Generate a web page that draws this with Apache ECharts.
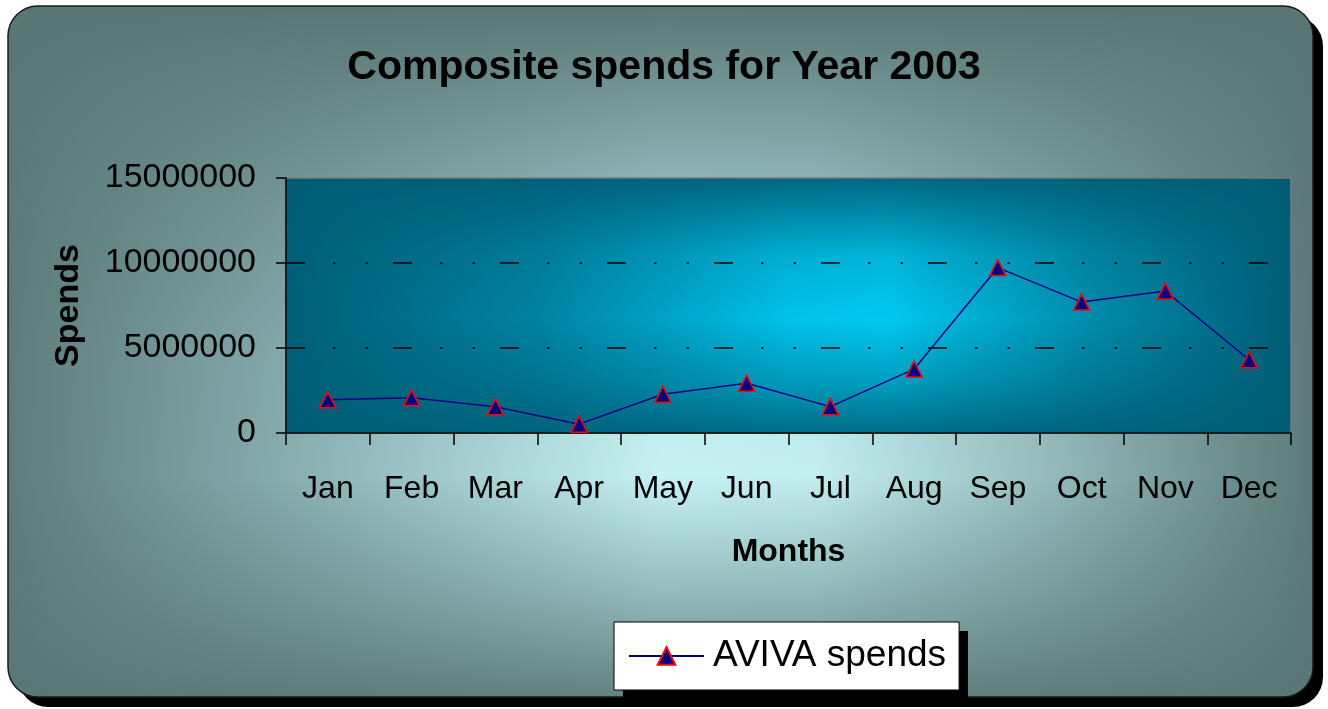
<!DOCTYPE html>
<html><head><meta charset="utf-8">
<script src="https://cdn.jsdelivr.net/npm/echarts@6/dist/echarts.min.js"></script>
<style>html,body{margin:0;padding:0;background:#fff}#c{width:1328px;height:709px}</style>
</head><body><div id="c"></div>
<script>
const months = ['Jan','Feb','Mar','Apr','May','Jun','Jul','Aug','Sep','Oct','Nov','Dec'];
const avivaSpends = [1950000, 2070000, 1550000, 520000, 2280000, 2930000, 1550000, 3760000, 9730000, 7700000, 8350000, 4310000];
const yMin = 0, yMax = 15000000, yInterval = 5000000;
const seriesName = 'AVIVA spends';
const titleText = 'Composite spends for Year 2003';
const xName = 'Months', yName = 'Spends';

const FONT = '"Liberation Sans", Arial, sans-serif';
const G = {left: 286, top: 178, right: 37, bottom: 276};
const LEG = {left: 614, top: 622, w: 345, h: 68, off: 9};

function lin(x2, y2, stops) {
  return {type: 'linear', x: 0, y: 0, x2: x2, y2: y2,
    colorStops: stops.map(s => ({offset: s[0], color: s[1]}))};
}

const chart = echarts.init(document.getElementById('c'), null, {renderer: 'canvas'});
chart.setOption({
  animation: false,
  backgroundColor: '#ffffff',
  graphic: [
    {type: 'rect', z: -30, shape: {x: 18, y: 16, width: 1305, height: 691, r: 30}, style: {fill: '#000'}},
    {type: 'rect', z: -29, shape: {x: 8, y: 6, width: 1305, height: 691, r: 30},
      style: {fill: lin(1, 0, [[0, '#5e7c7c'], [0.25, '#8fb6b8'], [0.5, '#c6f2f4'], [0.62, '#c2eef0'], [0.8, '#94babb'], [1, '#5c7a7a']])}},
    {type: 'rect', z: -28, shape: {x: 8, y: 6, width: 1305, height: 691, r: 30},
      style: {fill: lin(0, 1, [[0, 'rgba(88,118,118,1)'], [0.12, 'rgba(88,118,118,0.75)'], [0.3, 'rgba(88,118,118,0.4)'], [0.5, 'rgba(88,118,118,0.08)'], [0.68, 'rgba(88,118,118,0)'], [0.85, 'rgba(88,118,118,0.45)'], [1, 'rgba(88,118,118,0.9)']]),
        stroke: '#1a1a1a', lineWidth: 1.5}},
    {type: 'rect', z: -1, shape: {x: LEG.left + LEG.off, y: LEG.top + LEG.off, width: LEG.w, height: LEG.h}, style: {fill: '#000'}}
  ],
  title: {
    text: titleText, left: 'center', top: 42,
    textStyle: {fontFamily: FONT, fontSize: 41, fontWeight: 'bold', color: '#000'}
  },
  legend: {
    data: [seriesName], left: LEG.left, top: LEG.top, z: 5,
    backgroundColor: '#fff', borderColor: '#000', borderWidth: 1,
    padding: [12, 13, 12, 14],
    itemWidth: 75, itemHeight: 22,
    textStyle: {fontFamily: FONT, fontSize: 37, color: '#000', lineHeight: 44, padding: [0, 0, 0, 4]}
  },
  grid: [
    Object.assign({show: true, z: -3, borderWidth: 0,
      backgroundColor: lin(1, 0, [[0, '#005e77'], [0.25, '#0082a2'], [0.5, '#00c2ea'], [0.6, '#00c9f1'], [0.8, '#008cac'], [1, '#005c76']])}, G),
    Object.assign({show: true, z: -2, borderColor: '#7a7a7a', borderWidth: 1.5,
      backgroundColor: lin(0, 1, [[0, 'rgba(0,92,116,0.9)'], [0.3, 'rgba(0,92,116,0.2)'], [0.55, 'rgba(0,92,116,0)'], [0.8, 'rgba(0,92,116,0.4)'], [1, 'rgba(0,92,116,0.85)']])}, G)
  ],
  xAxis: {
    type: 'category', data: months, gridIndex: 0, boundaryGap: true,
    name: xName, nameLocation: 'middle', nameGap: 103,
    nameTextStyle: {fontFamily: FONT, fontSize: 32, fontWeight: 'bold', color: '#000'},
    axisLine: {lineStyle: {color: '#000', width: 1.5}},
    axisTick: {show: true, alignWithLabel: false, length: 12, lineStyle: {color: '#000', width: 1.5}},
    axisLabel: {fontFamily: FONT, fontSize: 32, color: '#000', margin: 40, interval: 0},
    splitLine: {show: false}
  },
  yAxis: {
    type: 'value', gridIndex: 0, min: yMin, max: yMax, interval: yInterval,
    name: yName, nameLocation: 'middle', nameGap: 200, nameRotate: 90,
    nameTextStyle: {fontFamily: FONT, fontSize: 34, fontWeight: 'bold', color: '#000'},
    axisLine: {show: true, lineStyle: {color: '#000', width: 1.5}},
    axisTick: {show: true, length: 10, lineStyle: {color: '#000', width: 1.5}},
    axisLabel: {fontFamily: FONT, fontSize: 34, color: '#000', margin: 30, formatter: v => String(v)},
    splitLine: {show: true, showMinLine: false, showMaxLine: false,
      lineStyle: {color: '#000', width: 1.5, type: [19, 28, 2.5, 30, 2.5, 25]}}
  },
  series: [{
    name: seriesName, type: 'line', data: avivaSpends,
    symbol: 'triangle', symbolSize: 16, showSymbol: true,
    lineStyle: {color: '#000080', width: 1.5},
    itemStyle: {color: '#000080', borderColor: '#ff0000', borderWidth: 1.5}
  }]
});
</script></body></html>
